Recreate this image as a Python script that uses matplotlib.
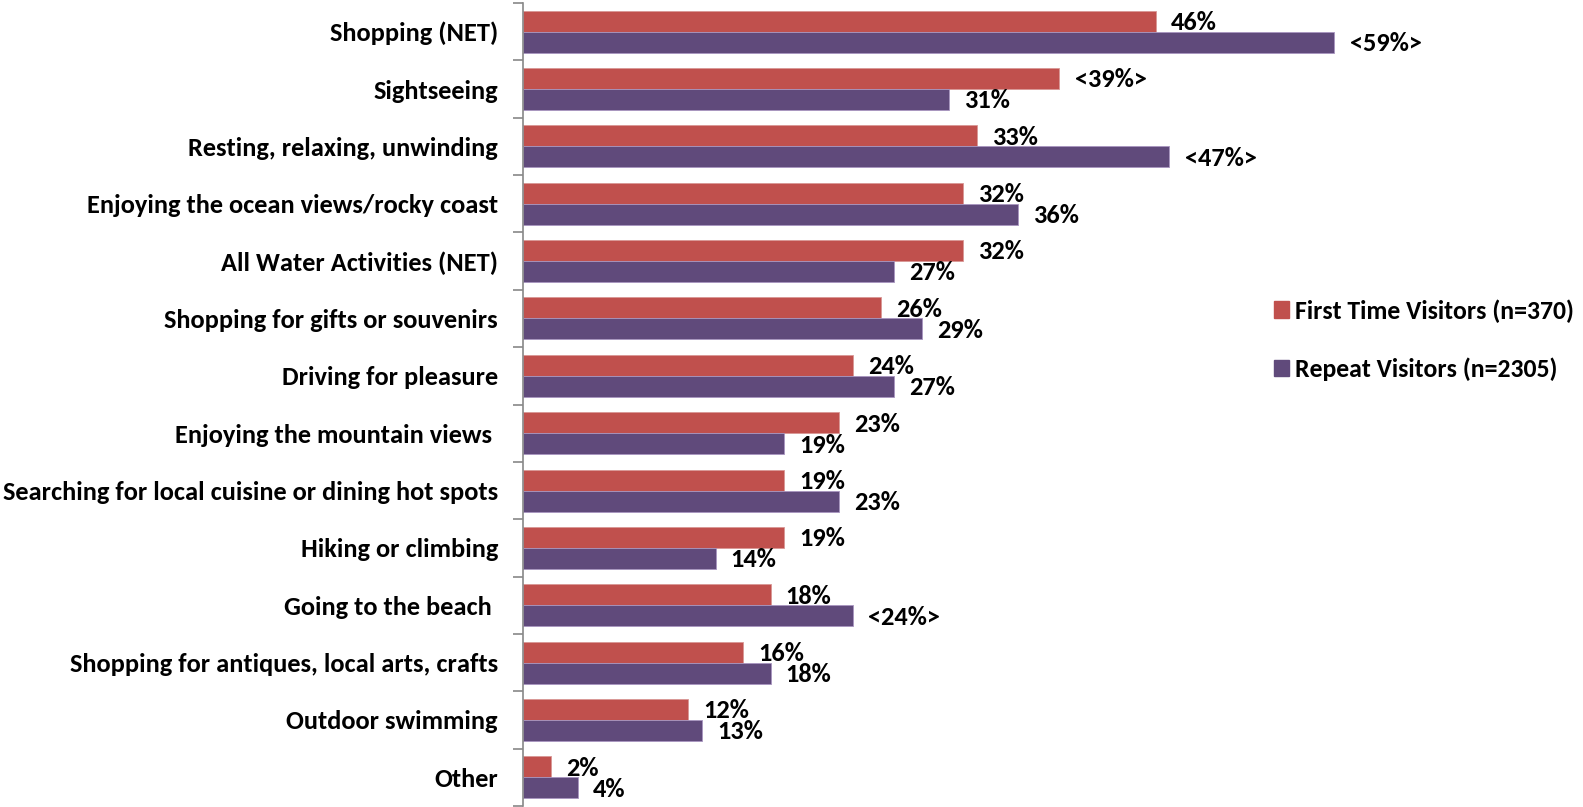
import numpy as np
import matplotlib
matplotlib.use("Agg")
import matplotlib.pyplot as plt
from matplotlib import font_manager
from matplotlib.patches import Patch

# pick a Calibri-like face if one is installed
installed = {f.name for f in font_manager.fontManager.ttflist}
family = [f for f in ["Carlito", "Lato", "Open Sans"] if f in installed] + ["DejaVu Sans"]
plt.rcParams['font.family'] = family

activities = ["Shopping (NET)", "Sightseeing", "Resting, relaxing, unwinding",
              "Enjoying the ocean views/rocky coast", "All Water Activities (NET)",
              "Shopping for gifts or souvenirs", "Driving for pleasure",
              "Enjoying the mountain views ", "Searching for local cuisine or dining hot spots",
              "Hiking or climbing", "Going to the beach ",
              "Shopping for antiques, local arts, crafts", "Outdoor swimming", "Other"]
first_time = [46, 39, 33, 32, 32, 26, 24, 23, 19, 19, 18, 16, 12, 2]
repeat = [59, 31, 47, 36, 27, 29, 27, 19, 23, 14, 24, 18, 13, 4]
# values marked <..> are significantly higher than the other group
first_sig = [False, True, False, False, False, False, False, False, False, False, False, False, False, False]
repeat_sig = [True, False, True, False, False, False, False, False, False, False, True, False, False, False]

red = '#C0504D'
purple = '#604A7B'
fs = 19

fig = plt.figure(figsize=(15.83, 8.07), dpi=100)
ax = fig.add_axes([523/1583, 1/807, 1045/1583, 803/807])

y = np.arange(len(activities))
h = 0.366
b1 = ax.barh(y - h/2, first_time, height=h, color=red, edgecolor='#D99795', linewidth=0.6)
b2 = ax.barh(y + h/2, repeat, height=h, color=purple, edgecolor='#A895C0', linewidth=0.6)

def fmt(v, sig):
    return "<%d%%>" % v if sig else "%d%%" % v

for bars, vals, sigs in [(b1, first_time, first_sig), (b2, repeat, repeat_sig)]:
    for bar, v, s in zip(bars, vals, sigs):
        ax.annotate(fmt(v, s), (v, bar.get_y() + bar.get_height()/2),
                    xytext=(11, -1), textcoords='offset points',
                    ha='left', va='center', fontsize=fs, fontweight='bold')

ax.set_xlim(0, 76)
ax.set_ylim(len(activities) - 0.5, -0.5)
ax.set_yticks(y)
ax.set_yticklabels(activities, fontsize=fs, fontweight='bold')
ax.tick_params(axis='y', which='major', length=0, pad=18)
ax.set_yticks(np.arange(len(activities) + 1) - 0.5, minor=True)
ax.tick_params(axis='y', which='minor', length=7, width=1.2, color='#888888')
ax.set_xticks([])
for side in ['top', 'right', 'bottom']:
    ax.spines[side].set_visible(False)
ax.spines['left'].set_color('#888888')
ax.spines['left'].set_linewidth(1.2)

handles = [Patch(color=red), Patch(color=purple)]
fig.legend(handles, ["First Time Visitors (n=370)", "Repeat Visitors (n=2305)"],
           loc='center left', bbox_to_anchor=(1274/1583, 1 - 340/807), frameon=False,
           prop={'size': 18.5, 'weight': 'bold'}, handlelength=0.6, handleheight=0.6,
           handletextpad=0.2, labelspacing=1.35, borderaxespad=0, borderpad=0)

fig.savefig('out.png', dpi=100)
